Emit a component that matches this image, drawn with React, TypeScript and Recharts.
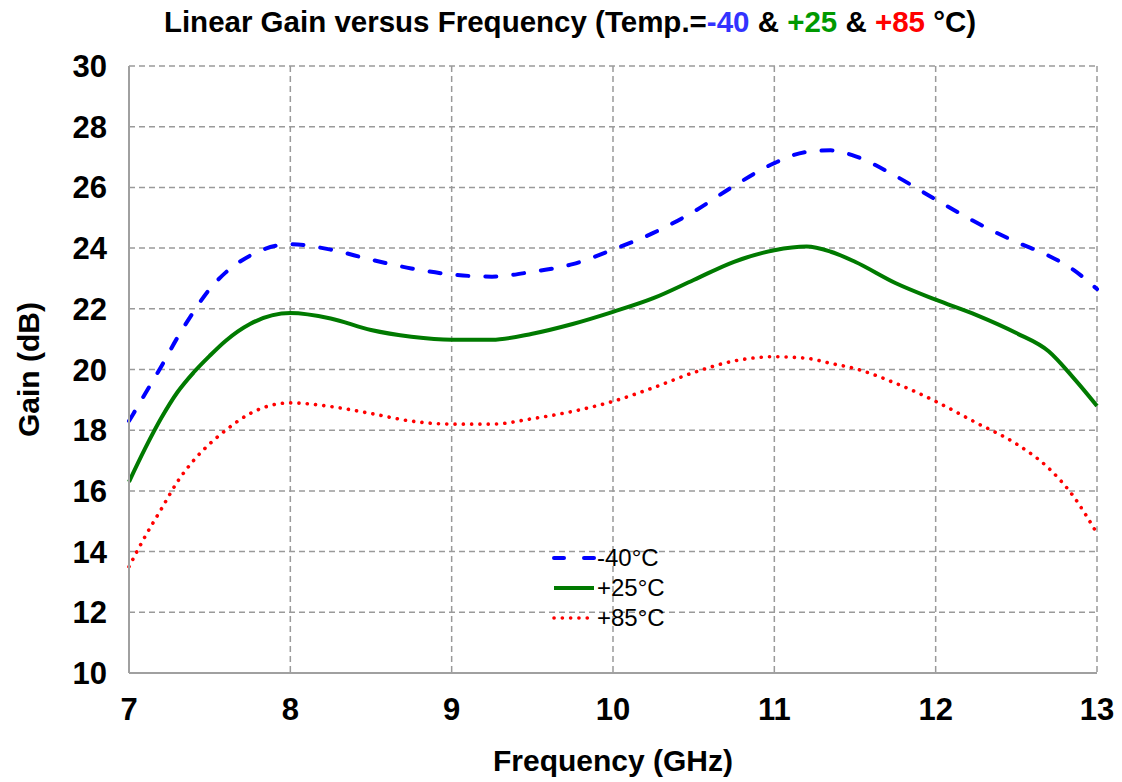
import React from "react";
import { CartesianGrid, Legend, Line, LineChart, XAxis, YAxis } from "recharts";

const FREQ = [7, 7.1, 7.2, 7.3, 7.4, 7.5, 7.6, 7.75, 8, 8.25, 8.5, 8.75, 9, 9.25, 9.5, 9.75, 10, 10.25, 10.5, 10.75, 11, 11.2, 11.35, 11.5, 11.75, 12, 12.25, 12.5, 12.7, 12.85, 13];

const GAIN_M40 = [18.3, 19.2, 20.1, 21.05, 21.9, 22.65, 23.2, 23.75, 24.13, 23.95, 23.62, 23.33, 23.13, 23.06, 23.22, 23.47, 23.95, 24.5, 25.2, 26.05, 26.8, 27.17, 27.22, 27.03, 26.38, 25.6, 24.85, 24.2, 23.75, 23.3, 22.65];
const GAIN_P25 = [16.3, 17.4, 18.4, 19.25, 19.9, 20.45, 20.95, 21.5, 21.86, 21.68, 21.3, 21.08, 20.98, 20.98, 21.18, 21.5, 21.9, 22.35, 22.95, 23.55, 23.93, 24.05, 23.88, 23.55, 22.85, 22.3, 21.8, 21.2, 20.6, 19.75, 18.8];
const GAIN_P85 = [13.5, 14.5, 15.4, 16.3, 17.0, 17.55, 18.0, 18.55, 18.9, 18.78, 18.55, 18.3, 18.2, 18.2, 18.38, 18.62, 18.95, 19.4, 19.9, 20.28, 20.42, 20.37, 20.2, 20.03, 19.55, 18.95, 18.25, 17.55, 16.75, 15.85, 14.6];

const X_TICKS = [7, 8, 9, 10, 11, 12, 13];
const Y_TICKS = [10, 12, 14, 16, 18, 20, 22, 24, 26, 28, 30];

const SERIES = [
  { key: "m40", label: "-40°C", color: "#0000ff", width: 4, dash: "11 17", cap: "round" as const },
  { key: "p25", label: "+25°C", color: "#007a00", width: 4, dash: undefined, cap: "butt" as const },
  { key: "p85", label: "+85°C", color: "#ff0000", width: 3.6, dash: "0.1 8.2", cap: "round" as const },
];

const data = FREQ.map((f, i) => ({ f, m40: GAIN_M40[i], p25: GAIN_P25[i], p85: GAIN_P85[i] }));

const FONT = "'Liberation Sans', Arial, sans-serif";
const tickStyle = { fill: "#000", fontSize: 31, fontWeight: 700, fontFamily: FONT };

function LegendBox() {
  return (
    <div style={{ fontFamily: FONT, fontSize: 24, color: "#000" }}>
      {SERIES.map((s) => (
        <div key={s.key} style={{ display: "flex", alignItems: "center", height: 30 }}>
          <svg width={46} height={10}>
            <line
              x1={3}
              x2={43}
              y1={5}
              y2={5}
              stroke={s.color}
              strokeWidth={s.width}
              strokeDasharray={s.key === "m40" ? "10 20" : s.dash}
              strokeLinecap={s.cap}
            />
          </svg>
          <span>{s.label}</span>
        </div>
      ))}
    </div>
  );
}

export default function App() {
  return (
    <div style={{ position: "absolute", left: 0, top: 0, width: 1122, height: 782, background: "#fff", fontFamily: FONT }}>
      <div
        style={{
          position: "absolute",
          left: 0,
          width: 1140,
          top: 5,
          textAlign: "center",
          fontSize: 29.5,
          fontWeight: 700,
          color: "#000",
          whiteSpace: "nowrap",
        }}
      >
        Linear Gain versus Frequency (Temp.=<span style={{ color: "#3333ff" }}>-40</span> &amp;{" "}
        <span style={{ color: "#009900" }}>+25</span> &amp; <span style={{ color: "#ff0000" }}>+85</span> °C)
      </div>
      <LineChart
        width={1122}
        height={782}
        data={data}
        margin={{ top: 66, right: 25, left: 0, bottom: 9 }}
        style={{ fontFamily: FONT }}
      >
        <CartesianGrid stroke="#9a9a9a" strokeWidth={1.5} strokeDasharray="6 4" />
        <XAxis
          dataKey="f"
          type="number"
          domain={[7, 13]}
          ticks={X_TICKS}
          height={100}
          tick={tickStyle}
          tickLine={false}
          tickSize={0}
          tickMargin={25}
          axisLine={{ stroke: "#a0a0a0", strokeWidth: 2 }}
          label={{ value: "Frequency (GHz)", position: "insideBottom", offset: 2, fill: "#000", fontSize: 30, fontWeight: 700 }}
        />
        <YAxis
          type="number"
          domain={[10, 30]}
          ticks={Y_TICKS}
          width={129}
          tick={tickStyle}
          tickLine={false}
          tickSize={0}
          tickMargin={22}
          axisLine={{ stroke: "#a0a0a0", strokeWidth: 2 }}
          label={{
            value: "Gain (dB)",
            angle: -90,
            position: "insideLeft",
            offset: 28,
            fill: "#000",
            fontSize: 30,
            fontWeight: 700,
            style: { textAnchor: "middle" },
          }}
        />
        <Legend
          layout="vertical"
          align="center"
          verticalAlign="middle"
          content={() => <LegendBox />}
          wrapperStyle={{ position: "absolute", left: 551, top: 543, width: 160, bottom: "auto", right: "auto" }}
        />
        {SERIES.map((s) => (
          <Line
            key={s.key}
            dataKey={s.key}
            name={s.label}
            type="monotone"
            stroke={s.color}
            strokeWidth={s.width}
            strokeDasharray={s.dash}
            strokeLinecap={s.cap}
            dot={false}
            activeDot={false}
            isAnimationActive={false}
          />
        ))}
      </LineChart>
    </div>
  );
}
